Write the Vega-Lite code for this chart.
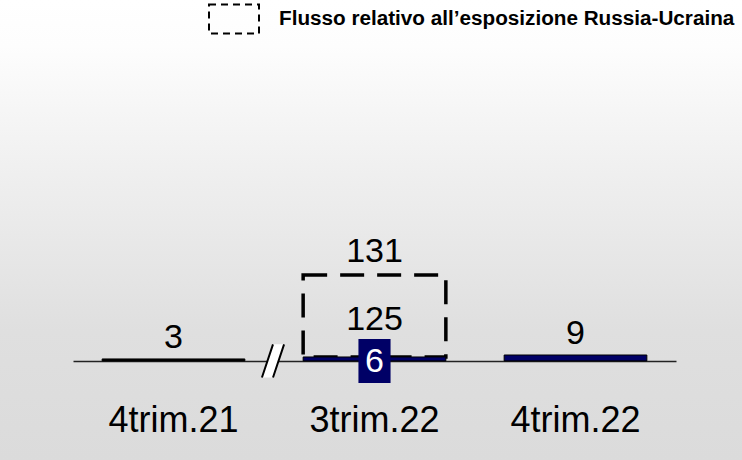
{
  "$schema": "https://vega.github.io/schema/vega-lite/v6.json",
  "width": 742,
  "height": 460,
  "autosize": "none",
  "padding": 0,
  "background": "#ffffff",
  "config": {
    "font": "Liberation Sans",
    "view": {
      "stroke": null,
      "fill": {
        "gradient": "linear",
        "x1": 0, "y1": 0, "x2": 0, "y2": 1,
        "stops": [
          {"offset": 0, "color": "#ffffff"},
          {"offset": 0.1, "color": "#fdfdfd"},
          {"offset": 0.4, "color": "#eeeeee"},
          {"offset": 0.72, "color": "#dfdfdf"},
          {"offset": 1, "color": "#dbdbdb"}
        ]
      }
    }
  },
  "data": {
    "values": [
      {"periodo": "4trim.21", "flusso": 3, "totale": null, "russia": null},
      {"periodo": "3trim.22", "flusso": 6, "totale": 131, "russia": 125},
      {"periodo": "4trim.22", "flusso": 9, "totale": null, "russia": null}
    ]
  },
  "encoding": {
    "x": {
      "field": "periodo",
      "type": "nominal",
      "sort": ["4trim.21", "3trim.22", "4trim.22"],
      "scale": {"type": "band", "range": [73, 676], "paddingInner": 0, "paddingOuter": 0},
      "axis": {
        "title": null,
        "orient": "bottom",
        "offset": -99,
        "ticks": false,
        "domainColor": "#222222",
        "domainWidth": 1.5,
        "labelFontSize": 36,
        "labelColor": "#000000",
        "labelFont": "Liberation Sans",
        "labelPadding": 42,
        "labelAngle": 0,
        "grid": false
      }
    }
  },
  "layer": [
    {
      "transform": [{"filter": "datum.totale != null"}],
      "mark": {"type": "bar", "filled": false, "stroke": "#000000", "strokeWidth": 3.5, "strokeDash": [24, 13], "width": {"band": 0.71}},
      "encoding": {
        "y": {"field": "flusso", "type": "quantitative", "scale": {"domain": [-151, 550], "zero": false, "nice": false}, "axis": null},
        "y2": {"field": "totale"}
      }
    },
    {
      "transform": [{"filter": "false"}],
      "mark": {"type": "bar", "filled": false, "stroke": "#000000", "strokeWidth": 2, "width": {"band": 0.71}},
      "encoding": {
        "y": {"field": "flusso", "type": "quantitative"},
        "y2": {"field": "totale"},
        "strokeDash": {
          "datum": "Flusso relativo all’esposizione Russia-Ucraina",
          "type": "nominal",
          "scale": {"range": [[7, 5]]},
          "legend": {
            "title": null,
            "orient": "none",
            "legendX": 208,
            "legendY": -7,
            "padding": 0,
            "symbolType": "M-1,-0.58L1,-0.58L1,0.58L-1,0.58Z",
            "symbolSize": 2500,
            "symbolStrokeColor": "#000000",
            "symbolFillColor": "transparent",
            "symbolStrokeWidth": 2,
            "symbolOpacity": 1,
            "labelOffset": 19,
            "labelFontSize": 20.7,
            "labelFontWeight": "bold",
            "labelFont": "Liberation Sans",
            "labelColor": "#000000",
            "labelLimit": 600
          }
        }
      }
    },
    {
      "mark": {"type": "bar", "stroke": "#000000", "strokeWidth": 1, "width": {"band": 0.71}},
      "encoding": {
        "y": {"field": "flusso", "type": "quantitative"},
        "color": {
          "field": "periodo",
          "type": "nominal",
          "scale": {"domain": ["4trim.21", "3trim.22", "4trim.22"], "range": ["#000000", "#000066", "#000066"]},
          "legend": null
        }
      }
    },
    {
      "transform": [{"filter": "datum.totale == null"}],
      "mark": {"type": "text", "fontSize": 34, "color": "#000000", "baseline": "alphabetic", "dy": -11},
      "encoding": {
        "y": {"field": "flusso", "type": "quantitative"},
        "text": {"field": "flusso", "type": "quantitative"}
      }
    },
    {
      "transform": [{"filter": "datum.totale != null"}],
      "mark": {"type": "point", "shape": "M-0.73,-1L0.73,-1L0.73,1L-0.73,1Z", "size": 1936, "filled": true, "fill": "#000066", "stroke": null, "opacity": 1},
      "encoding": {
        "y": {"datum": 0, "type": "quantitative"}
      }
    },
    {
      "transform": [{"filter": "datum.totale != null"}],
      "mark": {"type": "text", "fontSize": 34, "color": "#ffffff", "baseline": "middle", "dy": 1},
      "encoding": {
        "y": {"datum": 0, "type": "quantitative"},
        "text": {"field": "flusso", "type": "quantitative"}
      }
    },
    {
      "transform": [{"filter": "datum.totale != null"}],
      "mark": {"type": "text", "fontSize": 34, "color": "#000000", "baseline": "alphabetic", "dy": 55},
      "encoding": {
        "y": {"field": "totale", "type": "quantitative"},
        "text": {"field": "russia", "type": "quantitative"}
      }
    },
    {
      "transform": [{"filter": "datum.totale != null"}],
      "mark": {"type": "text", "fontSize": 34, "color": "#000000", "baseline": "alphabetic", "dy": -13},
      "encoding": {
        "y": {"field": "totale", "type": "quantitative"},
        "text": {"field": "totale", "type": "quantitative"}
      }
    },
    {
      "transform": [{"filter": "datum.periodo == '4trim.21'"}],
      "mark": {"type": "point", "shape": "M-0.667,1L0,-1L0.667,-1L0,1Z", "size": 1100, "filled": true, "fill": "#ffffff", "stroke": null, "opacity": 1},
      "encoding": {
        "x": {"field": "periodo", "type": "nominal", "bandPosition": 0.995},
        "y": {"datum": 0, "type": "quantitative"}
      }
    },
    {
      "transform": [{"filter": "datum.periodo == '4trim.21'"}],
      "mark": {"type": "point", "shape": "M-0.667,1L0,-1M0,1L0.667,-1", "size": 1100, "filled": false, "stroke": "#000000", "strokeWidth": 2, "opacity": 1},
      "encoding": {
        "x": {"field": "periodo", "type": "nominal", "bandPosition": 0.995},
        "y": {"datum": 0, "type": "quantitative"}
      }
    }
  ]
}
